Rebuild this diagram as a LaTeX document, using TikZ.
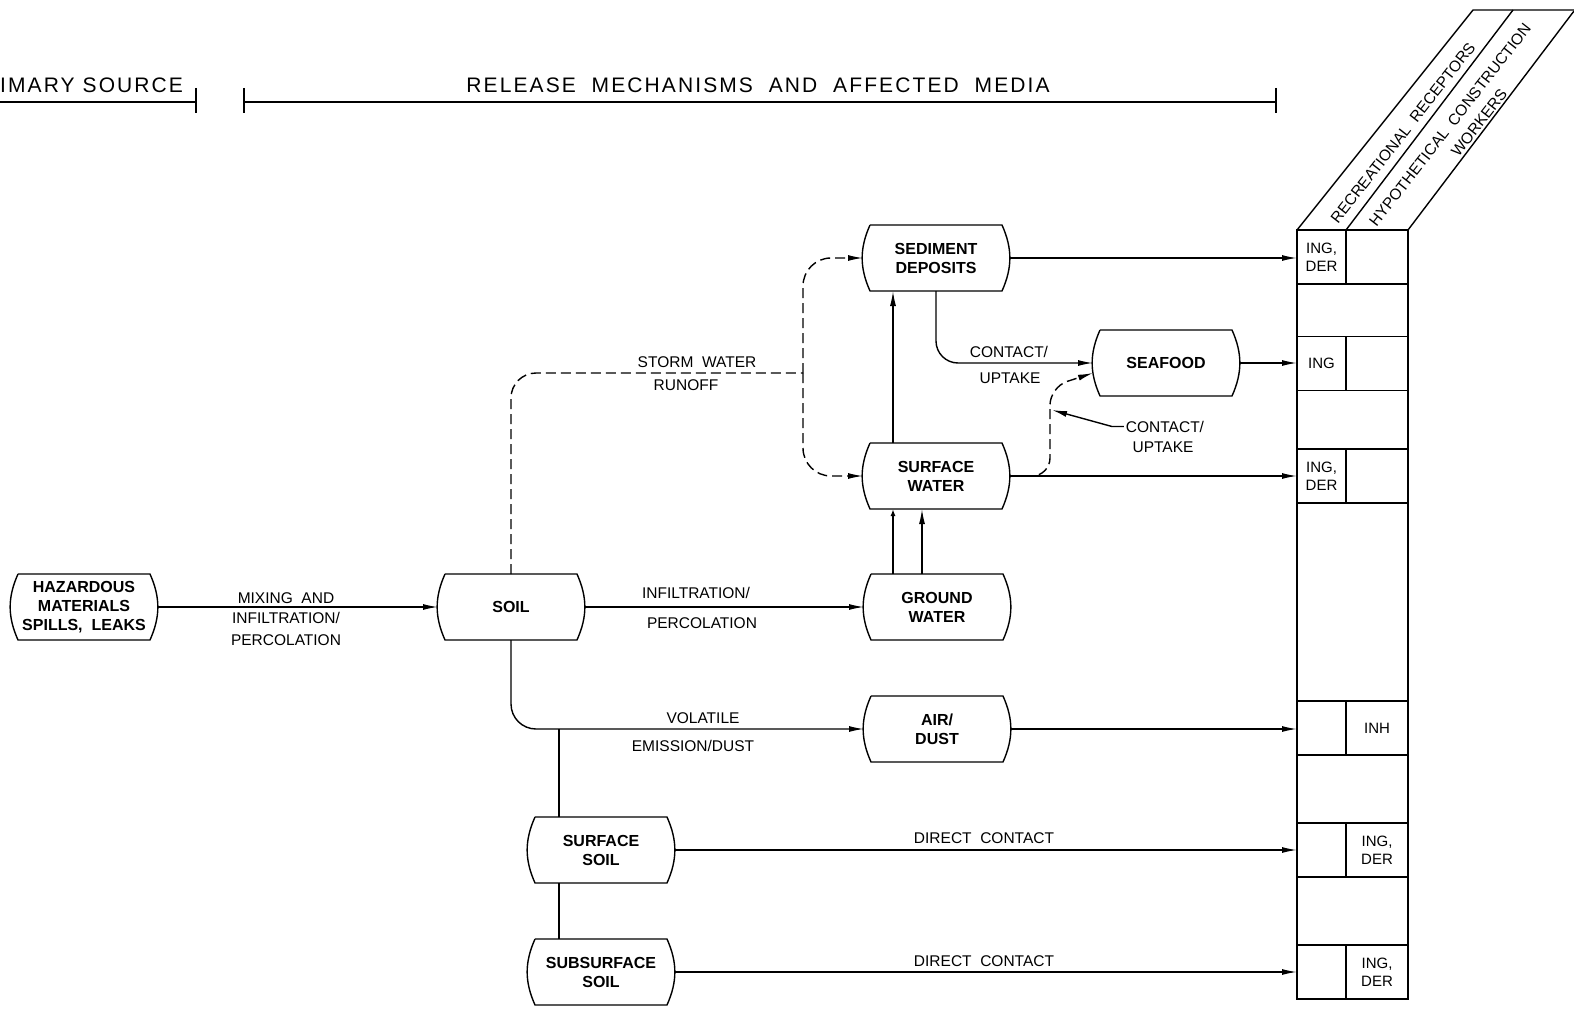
\documentclass[tikz,border=0pt]{standalone}
\usepackage{fontspec}
\setmainfont{Liberation Sans}
\newfontfamily\hdrfont[LetterSpace=10]{Liberation Sans}
\usetikzlibrary{arrows.meta}
\begin{document}
\begin{tikzpicture}[x=1pt,y=-1pt,
  medium/.style={rectangle, minimum width=146pt, minimum height=66pt, inner sep=2pt,
    outer sep=0pt, font=\fontsize{16}{19}\selectfont\bfseries, align=center,
    append after command={\pgfextra{\draw[line width=1.4pt, line join=round]
      ([xshift=7pt]\tikzlastnode.north west) -- ([xshift=-7pt]\tikzlastnode.north east)
      to[bend left=24] ([xshift=-7pt]\tikzlastnode.south east)
      -- ([xshift=7pt]\tikzlastnode.south west)
      to[bend left=24] ([xshift=7pt]\tikzlastnode.north west);}}},
  plain/.style={line width=1.4pt},
  conn/.style={line width=1.4pt, -{Latex[length=15pt,width=6pt]}},
  connsmall/.style={line width=1.4pt, -{Latex[length=7pt,width=5pt]}},
  dashedline/.style={line width=1.4pt, dash pattern=on 10pt off 5pt},
  dashedconn/.style={conn, dash pattern=on 10pt off 5pt},
  lbl/.style={font=\fontsize{15.5}{18}\selectfont, inner sep=0pt, anchor=base},
  hdr/.style={font=\fontsize{21}{24}\hdrfont, inner sep=0pt, anchor=base},
  cellL/.style={draw, line width=1.4pt, minimum width=49pt, minimum height=54pt,
    inner sep=0pt, outer sep=0pt, align=center, font=\fontsize{15}{18}\selectfont},
  cellR/.style={cellL, minimum width=62pt},
  slant/.style={rotate=52, inner sep=0pt, font=\fontsize{15.5}{18}\selectfont},
]
\useasboundingbox (0,0) rectangle (1574,1011);

% ---- header ----
\node[hdr, anchor=base west] (prim) at (0,93) {IMARY SOURCE};
\draw[plain] (0,102) -- (196,102);
\draw[plain] (196,88) -- (196,113);
\node[hdr] (rel) at (758,93) {RELEASE\ \ MECHANISMS\ \ AND\ \ AFFECTED\ \ MEDIA};
\draw[plain] (244,102) -- (1276,102);
\draw[plain] (244,88) -- (244,113);
\draw[plain] (1276,88) -- (1276,113);

% ---- media nodes ----
\node[medium] (haz) at (84,607) {HAZARDOUS\\MATERIALS\\SPILLS,\ \ LEAKS};
\node[medium] (soil) at (511,607) {SOIL};
\node[medium] (gw) at (937,607) {GROUND\\WATER};
\node[medium] (sed) at (936,258) {SEDIMENT\\DEPOSITS};
\node[medium] (sea) at (1166,363) {SEAFOOD};
\node[medium] (sw) at (936,476) {SURFACE\\WATER};
\node[medium] (air) at (937,729) {AIR/\\DUST};
\node[medium] (ssoil) at (601,850) {SURFACE\\SOIL};
\node[medium] (sub) at (601,972) {SUBSURFACE\\SOIL};

% ---- receptor column ----
\draw[plain] (1297,230) rectangle (1408,999);
\draw[plain] (1297,230) -- (1473,10) -- (1574,10);
\draw[plain] (1346,230) -- (1513,10);
\draw[plain] (1408,230) -- (1574,11);
\node[slant] (rr) at (1403,133) {RECREATIONAL\ \ RECEPTORS};
\node[slant] (hc) at (1450,125) {HYPOTHETICAL\ \ CONSTRUCTION};
\node[slant] (wk) at (1479,123) {WORKERS};

\node[cellL] (r1a) at (1321.5,257) {ING,\\DER};
\node[cellR] (r1b) at (1377,257) {};
\node[cellL] (r2a) at (1321.5,363.5) {ING};
\node[cellR] (r2b) at (1377,363.5) {};
\node[cellL] (r3a) at (1321.5,476) {ING,\\DER};
\node[cellR] (r3b) at (1377,476) {};
\node[cellL] (r4a) at (1321.5,728) {};
\node[cellR] (r4b) at (1377,728) {INH};
\node[cellL] (r5a) at (1321.5,850) {};
\node[cellR] (r5b) at (1377,850) {ING,\\DER};
\node[cellL] (r6a) at (1321.5,972) {};
\node[cellR] (r6b) at (1377,972) {ING,\\DER};

% ---- connectors ----
\draw[conn] (haz) -- (soil);
\node[lbl] (l1a) at (286,603) {MIXING\ \ AND};
\node[lbl] (l1b) at (286,623) {INFILTRATION/};
\node[lbl] (l1c) at (286,645) {PERCOLATION};

\draw[conn] (soil) -- (gw);
\node[lbl] (l2a) at (696,598) {INFILTRATION/};
\node[lbl] (l2b) at (702,628) {PERCOLATION};

\draw[conn, rounded corners=25pt] (soil.south) |- (air.west);
\node[lbl] (l3a) at (703,723) {VOLATILE};
\node[lbl] (l3b) at (693,751) {EMISSION/DUST};

\coordinate (br) at (559,729);
\draw[plain] (br) -- (br |- ssoil.north);
\draw[plain] (ssoil.south -| br) -- (sub.north -| br);

\draw[conn] (ssoil) -- (ssoil -| r5a.west);
\node[lbl] (l4) at (984,843) {DIRECT\ \ CONTACT};
\draw[conn] (sub) -- (sub -| r6a.west);
\node[lbl] (l5) at (984,966) {DIRECT\ \ CONTACT};

\draw[conn] (air) -- (air -| r4a.west);
\draw[conn] (sed) -- (sed -| r1a.west);
\draw[conn] (sea) -- (sea -| r2a.west);
\draw[conn] (sw) -- (sw -| r3a.west);

% storm water runoff
\coordinate (sj) at (803,373);
\draw[dashedline, rounded corners=25pt] (soil.north) |- (sj);
\draw[dashedconn, rounded corners=28pt] (sj) |- (sed.west);
\draw[dashedconn, rounded corners=28pt] (sj) |- (sw.west);
\node[lbl] (l6a) at (697,367) {STORM\ \ WATER};
\node[lbl] (l6b) at (686,390) {RUNOFF};

% vertical transfers
\draw[connsmall] (gw.north -| 893,0) -- (sw.south -| 893,0);
\draw[conn] (gw.north -| 922,0) -- (sw.south -| 922,0);
\draw[conn] (sw.north -| 893,0) -- (sed.south -| 893,0);

% to seafood
\draw[conn, rounded corners=22pt] (sed.south) |- (sea.west);
\node[lbl] (l7a) at (1009,357) {CONTACT/};
\node[lbl] (l7b) at (1010,383) {UPTAKE};

\coordinate (dc) at (1050,387);
\draw[dashedconn, rounded corners=18pt] (sw.east) -| (dc) -- ([yshift=-10pt]sea.west);
\node[lbl] (l8a) at (1165,432) {CONTACT/};
\node[lbl] (l8b) at (1163,452) {UPTAKE};
\coordinate (lp) at (1052,410);
\draw[conn] ([xshift=-2pt]l8a.west) -- ++(-12,0) -- (lp);

\end{tikzpicture}
\end{document}
